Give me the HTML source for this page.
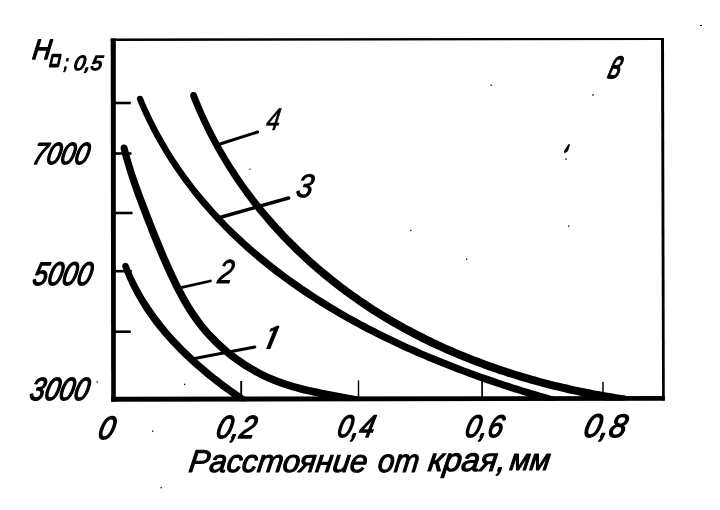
<!DOCTYPE html>
<html lang="ru"><head><meta charset="utf-8"><title>График</title>
<style>html,body{margin:0;padding:0;background:#fff}svg{display:block}</style></head><body>
<svg width="720" height="510" viewBox="0 0 720 510">
<rect width="720" height="510" fill="#fff"/>
<g fill="#000" stroke="none">
<polygon points="110.7,38.5 115.8,38.5 115.8,401.8 111.2,401.8"/>
<polygon points="111.2,396.8 664.8,396 664.8,400.7 111.2,401.8"/>
<polygon points="110.7,38.5 664,37.9 664,40 110.7,40.9"/>
<polygon points="661,38 664,38 664.8,400.5 662.1,400.5"/>
</g>
<g stroke="#000" stroke-width="2.6" fill="none">
<line x1="114" y1="103" x2="130.8" y2="103"/>
<line x1="114" y1="153.5" x2="131.5" y2="153.5"/>
<line x1="114" y1="213" x2="132.5" y2="213"/>
<line x1="114" y1="271.2" x2="131.8" y2="271.2"/>
<line x1="114" y1="331.7" x2="130.8" y2="331.7"/>
<line x1="241.2" y1="381" x2="241.2" y2="397" stroke-width="1.9"/>
<line x1="358.5" y1="380.4" x2="358.5" y2="397" stroke-width="1.4"/>
<line x1="482.1" y1="380.5" x2="482.1" y2="397" stroke-width="1.7"/>
<line x1="603" y1="382" x2="603" y2="397" stroke-width="1.5"/>
<line x1="220" y1="144" x2="257.6" y2="132" stroke-width="3.0" stroke-linecap="round"/>
<line x1="218" y1="218" x2="288.6" y2="198" stroke-width="3.4" stroke-linecap="round"/>
<line x1="182" y1="287.3" x2="210.4" y2="281" stroke-width="2.8" stroke-linecap="round"/>
<line x1="194.5" y1="358.5" x2="254.8" y2="347" stroke-width="3.0" stroke-linecap="round"/>
</g>
<clipPath id="above"><polygon points="0,0 720,0 720,400.4 0,401.6"/></clipPath>
<g fill="#000" stroke="none" clip-path="url(#above)">
<polygon points="122.4,267.3 123.8,271.2 125.4,275.0 127.0,278.7 128.6,282.5 130.4,286.2 132.2,289.8 134.1,293.4 136.1,297.0 138.1,300.5 140.2,304.0 142.3,307.5 144.5,310.9 146.8,314.3 149.1,317.6 151.5,320.9 153.9,324.2 156.4,327.4 159.0,330.5 161.6,333.7 164.2,336.8 166.9,339.8 169.7,342.9 172.4,345.8 175.3,348.8 178.1,351.7 181.0,354.6 183.9,357.4 186.9,360.2 189.9,363.0 192.9,365.7 196.0,368.5 199.1,371.1 202.2,373.8 205.3,376.4 208.5,378.9 211.7,381.5 214.9,384.0 218.1,386.4 221.3,388.9 224.6,391.3 227.9,393.6 231.1,396.0 234.4,398.3 237.8,400.6 241.1,402.8 244.4,405.0 248.4,398.9 245.1,396.7 241.9,394.5 238.6,392.3 235.4,390.0 232.1,387.7 228.9,385.3 225.7,383.0 222.5,380.6 219.4,378.1 216.2,375.7 213.1,373.2 210.0,370.7 206.9,368.1 203.9,365.5 200.9,362.9 197.9,360.2 194.9,357.6 192.0,354.8 189.1,352.1 186.2,349.3 183.4,346.5 180.6,343.6 177.9,340.7 175.2,337.8 172.5,334.9 169.9,331.9 167.3,328.9 164.8,325.8 162.3,322.7 159.9,319.6 157.5,316.5 155.2,313.3 152.9,310.0 150.7,306.8 148.5,303.5 146.4,300.2 144.3,296.9 142.3,293.5 140.3,290.0 138.5,286.6 136.6,283.1 134.9,279.5 133.2,276.0 131.6,272.3 130.1,268.7 128.6,265.0 127.9,263.9 126.8,263.1 125.6,262.8 124.3,263.0 123.2,263.7 122.4,264.8 122.2,266.0"/>
<polygon points="120.6,148.8 121.6,152.7 122.6,156.7 123.7,160.6 124.8,164.5 126.0,168.4 127.2,172.3 128.4,176.2 129.7,180.1 131.0,183.9 132.3,187.7 133.6,191.6 135.0,195.4 136.4,199.2 137.8,203.0 139.2,206.8 140.6,210.6 142.1,214.3 143.5,218.1 145.0,221.9 146.5,225.6 148.0,229.4 149.4,233.2 150.9,236.9 152.5,240.7 154.0,244.5 155.5,248.2 157.1,252.0 158.7,255.7 160.3,259.4 161.9,263.1 163.5,266.9 165.2,270.6 166.9,274.2 168.6,277.9 170.4,281.6 172.1,285.2 173.9,288.9 175.8,292.5 177.7,296.1 179.6,299.7 181.6,303.2 183.7,306.8 185.8,310.3 188.0,313.7 190.3,317.1 192.6,320.5 195.0,323.8 197.6,327.1 200.1,330.3 202.8,333.4 205.5,336.5 208.3,339.5 211.2,342.5 214.1,345.4 217.1,348.2 220.1,351.0 223.3,353.7 226.4,356.3 229.7,358.9 233.0,361.3 236.3,363.8 239.7,366.1 243.2,368.4 246.7,370.5 250.2,372.6 253.8,374.7 257.4,376.6 261.1,378.5 264.8,380.2 268.6,381.9 272.4,383.5 276.2,385.1 280.1,386.5 284.0,387.8 287.9,389.1 291.8,390.2 295.7,391.3 299.7,392.4 303.7,393.4 307.6,394.3 311.6,395.2 315.6,396.0 319.6,396.9 323.6,397.6 327.6,398.4 331.6,399.2 335.6,399.9 339.5,400.7 343.5,401.4 347.4,402.1 351.4,402.9 355.3,403.7 359.2,404.5 360.8,397.1 356.8,396.3 352.9,395.5 348.9,394.7 344.9,393.9 340.9,393.2 337.0,392.4 333.0,391.7 329.0,390.9 325.1,390.2 321.1,389.4 317.2,388.6 313.2,387.8 309.3,386.9 305.4,386.0 301.6,385.0 297.7,384.0 293.9,382.9 290.1,381.8 286.3,380.6 282.6,379.3 278.9,378.0 275.3,376.5 271.6,375.0 268.0,373.4 264.5,371.7 260.9,369.9 257.5,368.0 254.0,366.1 250.6,364.0 247.3,362.0 244.0,359.8 240.7,357.5 237.5,355.2 234.3,352.8 231.2,350.4 228.2,347.9 225.2,345.3 222.2,342.6 219.4,339.9 216.6,337.1 213.8,334.3 211.1,331.4 208.5,328.4 206.0,325.4 203.5,322.4 201.1,319.2 198.8,316.1 196.6,312.8 194.4,309.6 192.3,306.2 190.2,302.9 188.2,299.5 186.3,296.0 184.4,292.5 182.5,289.0 180.7,285.5 179.0,281.9 177.2,278.3 175.5,274.7 173.8,271.1 172.1,267.4 170.5,263.8 168.9,260.1 167.2,256.4 165.7,252.7 164.1,249.0 162.6,245.3 161.0,241.6 159.5,237.8 158.0,234.1 156.5,230.4 155.0,226.6 153.5,222.9 152.1,219.1 150.6,215.4 149.1,211.6 147.7,207.8 146.2,204.1 144.8,200.3 143.4,196.6 141.9,192.8 140.6,189.1 139.2,185.3 137.9,181.5 136.6,177.7 135.3,174.0 134.1,170.2 132.9,166.3 131.7,162.5 130.6,158.7 129.5,154.8 128.5,151.0 127.5,147.1 126.9,145.9 125.9,144.9 124.6,144.5 123.2,144.5 122.0,145.1 121.1,146.1 120.6,147.4"/>
<polygon points="137.1,100.0 138.7,103.9 140.3,107.7 142.0,111.5 143.7,115.3 145.5,119.1 147.3,122.8 149.2,126.5 151.0,130.2 152.9,133.8 154.9,137.4 156.9,141.0 158.9,144.5 160.9,148.1 163.0,151.6 165.1,155.0 167.3,158.5 169.4,161.9 171.7,165.3 173.9,168.7 176.2,172.0 178.5,175.3 180.8,178.6 183.2,181.9 185.6,185.1 188.0,188.3 190.4,191.5 192.9,194.7 195.4,197.8 198.0,200.9 200.5,204.0 203.1,207.0 205.8,210.1 208.4,213.1 211.1,216.1 213.8,219.0 216.5,221.9 219.3,224.8 222.1,227.7 224.9,230.6 227.7,233.4 230.6,236.2 233.5,239.0 236.4,241.8 239.3,244.5 242.3,247.2 245.2,249.9 248.2,252.5 251.3,255.2 254.3,257.8 257.4,260.4 260.5,263.0 263.6,265.5 266.7,268.0 269.9,270.5 273.0,273.0 276.2,275.4 279.5,277.8 282.7,280.2 286.0,282.6 289.2,285.0 292.5,287.3 295.8,289.6 299.2,291.9 302.5,294.2 305.9,296.4 309.3,298.6 312.7,300.8 316.1,303.0 319.5,305.2 322.9,307.3 326.4,309.4 329.9,311.5 333.3,313.6 336.8,315.7 340.4,317.7 343.9,319.7 347.4,321.7 351.0,323.7 354.5,325.6 358.1,327.6 361.7,329.5 365.3,331.4 368.9,333.3 372.5,335.1 376.2,336.9 379.8,338.8 383.4,340.6 387.1,342.3 390.8,344.1 394.5,345.8 398.1,347.6 401.8,349.3 405.5,351.0 409.2,352.6 413.0,354.3 416.7,355.9 420.4,357.5 424.2,359.1 427.9,360.7 431.6,362.3 435.4,363.8 439.2,365.3 442.9,366.8 446.7,368.3 450.5,369.8 454.2,371.3 458.0,372.7 461.8,374.1 465.6,375.5 469.3,376.9 473.1,378.3 476.9,379.7 480.7,381.0 484.5,382.4 488.3,383.7 492.1,385.0 495.9,386.2 499.7,387.5 503.5,388.8 507.3,390.0 511.0,391.2 514.8,392.4 518.6,393.6 522.4,394.8 526.2,396.0 530.0,397.1 533.7,398.2 537.5,399.4 541.3,400.5 545.0,401.6 548.8,402.6 552.6,403.7 556.3,404.8 558.2,397.8 554.5,396.8 550.8,395.7 547.0,394.6 543.3,393.6 539.6,392.5 535.8,391.3 532.1,390.2 528.3,389.1 524.5,387.9 520.8,386.7 517.0,385.6 513.2,384.4 509.5,383.1 505.7,381.9 502.0,380.7 498.2,379.4 494.4,378.1 490.7,376.8 486.9,375.5 483.1,374.2 479.4,372.9 475.6,371.5 471.8,370.2 468.1,368.8 464.3,367.4 460.6,366.0 456.8,364.5 453.1,363.1 449.3,361.6 445.6,360.1 441.9,358.6 438.1,357.1 434.4,355.6 430.7,354.0 427.0,352.5 423.3,350.9 419.6,349.3 415.9,347.6 412.2,346.0 408.5,344.4 404.9,342.7 401.2,341.0 397.5,339.3 393.9,337.6 390.3,335.8 386.6,334.0 383.0,332.3 379.4,330.5 375.8,328.6 372.2,326.8 368.7,324.9 365.1,323.1 361.6,321.2 358.0,319.3 354.5,317.3 351.0,315.4 347.5,313.4 344.0,311.4 340.5,309.4 337.0,307.3 333.6,305.3 330.2,303.2 326.8,301.1 323.4,299.0 320.0,296.9 316.6,294.7 313.2,292.5 309.9,290.3 306.6,288.1 303.3,285.9 300.0,283.6 296.7,281.3 293.5,279.0 290.2,276.7 287.0,274.4 283.8,272.0 280.7,269.6 277.5,267.2 274.4,264.8 271.2,262.3 268.1,259.8 265.1,257.3 262.0,254.8 259.0,252.3 255.9,249.7 252.9,247.2 250.0,244.5 247.0,241.9 244.1,239.3 241.2,236.6 238.3,233.9 235.5,231.2 232.6,228.4 229.8,225.7 227.0,222.9 224.3,220.0 221.5,217.2 218.8,214.3 216.1,211.4 213.5,208.5 210.9,205.6 208.3,202.6 205.7,199.6 203.1,196.6 200.6,193.6 198.1,190.5 195.7,187.4 193.2,184.3 190.8,181.1 188.5,178.0 186.1,174.8 183.8,171.6 181.5,168.3 179.3,165.0 177.1,161.7 174.9,158.4 172.7,155.0 170.6,151.7 168.5,148.2 166.5,144.8 164.4,141.3 162.5,137.8 160.5,134.3 158.6,130.8 156.7,127.2 154.8,123.6 153.0,120.0 151.2,116.3 149.5,112.6 147.8,108.9 146.1,105.2 144.5,101.4 142.9,97.6 142.2,96.6 141.2,95.9 140.0,95.7 138.8,95.9 137.7,96.6 137.1,97.6 136.8,98.8"/>
<polygon points="190.3,96.5 191.8,100.4 193.3,104.2 194.9,108.0 196.5,111.7 198.2,115.5 199.9,119.2 201.6,122.9 203.3,126.6 205.1,130.2 206.9,133.9 208.8,137.5 210.7,141.1 212.6,144.7 214.5,148.3 216.5,151.8 218.5,155.3 220.6,158.8 222.6,162.3 224.8,165.7 226.9,169.2 229.1,172.6 231.3,176.0 233.5,179.4 235.7,182.7 238.0,186.0 240.3,189.3 242.7,192.6 245.0,195.9 247.4,199.1 249.9,202.4 252.3,205.5 254.8,208.7 257.3,211.9 259.9,215.0 262.5,218.1 265.1,221.2 267.7,224.2 270.3,227.3 273.0,230.3 275.7,233.3 278.5,236.2 281.2,239.2 284.0,242.1 286.8,245.0 289.7,247.8 292.5,250.7 295.4,253.5 298.3,256.3 301.3,259.0 304.2,261.8 307.2,264.5 310.2,267.2 313.2,269.8 316.3,272.5 319.4,275.1 322.5,277.7 325.6,280.2 328.7,282.8 331.9,285.3 335.1,287.8 338.3,290.2 341.5,292.7 344.7,295.1 348.0,297.5 351.3,299.8 354.6,302.1 357.9,304.4 361.2,306.7 364.6,309.0 367.9,311.2 371.3,313.4 374.7,315.6 378.2,317.7 381.6,319.8 385.1,321.9 388.5,324.0 392.0,326.0 395.5,328.0 399.1,330.0 402.6,332.0 406.2,333.9 409.7,335.8 413.3,337.7 416.9,339.5 420.5,341.4 424.2,343.2 427.8,344.9 431.4,346.7 435.1,348.4 438.8,350.1 442.5,351.8 446.2,353.4 449.9,355.0 453.6,356.6 457.4,358.2 461.1,359.7 464.9,361.3 468.6,362.8 472.4,364.2 476.2,365.7 480.0,367.1 483.8,368.5 487.6,369.9 491.4,371.2 495.3,372.6 499.1,373.9 503.0,375.1 506.8,376.4 510.7,377.6 514.5,378.8 518.4,380.0 522.3,381.2 526.2,382.3 530.1,383.4 534.0,384.5 537.9,385.6 541.8,386.7 545.7,387.7 549.6,388.7 553.5,389.7 557.5,390.6 561.4,391.6 565.3,392.5 569.3,393.4 573.2,394.2 577.1,395.1 581.1,395.9 585.0,396.7 589.0,397.5 592.9,398.2 596.9,399.0 600.8,399.7 604.7,400.4 608.7,401.0 612.6,401.7 616.6,402.3 620.5,402.9 624.5,403.5 625.6,395.6 621.7,395.0 617.8,394.4 613.9,393.8 610.0,393.1 606.1,392.5 602.2,391.8 598.3,391.1 594.4,390.4 590.5,389.6 586.6,388.8 582.7,388.0 578.8,387.2 574.9,386.4 571.0,385.5 567.1,384.6 563.2,383.7 559.3,382.8 555.5,381.9 551.6,380.9 547.7,379.9 543.8,378.9 540.0,377.9 536.1,376.8 532.3,375.7 528.4,374.6 524.6,373.5 520.7,372.3 516.9,371.2 513.1,370.0 509.3,368.7 505.5,367.5 501.7,366.2 497.9,364.9 494.1,363.6 490.3,362.3 486.6,360.9 482.8,359.5 479.1,358.1 475.3,356.7 471.6,355.2 467.9,353.8 464.2,352.3 460.5,350.7 456.8,349.2 453.1,347.6 449.4,346.0 445.8,344.4 442.2,342.7 438.5,341.1 434.9,339.4 431.3,337.6 427.7,335.9 424.2,334.1 420.6,332.3 417.0,330.5 413.5,328.6 410.0,326.8 406.5,324.9 403.0,323.0 399.5,321.0 396.1,319.0 392.6,317.0 389.2,315.0 385.8,313.0 382.4,310.9 379.0,308.8 375.6,306.7 372.3,304.5 369.0,302.3 365.7,300.1 362.4,297.9 359.1,295.6 355.8,293.3 352.6,291.0 349.4,288.7 346.2,286.3 343.0,284.0 339.9,281.5 336.7,279.1 333.6,276.6 330.5,274.1 327.5,271.6 324.4,269.1 321.4,266.5 318.4,263.9 315.4,261.3 312.4,258.7 309.5,256.0 306.6,253.3 303.7,250.6 300.8,247.9 297.9,245.1 295.1,242.3 292.3,239.5 289.5,236.7 286.8,233.9 284.1,231.0 281.4,228.1 278.7,225.2 276.0,222.2 273.4,219.3 270.8,216.3 268.2,213.3 265.6,210.2 263.1,207.2 260.6,204.1 258.1,201.0 255.7,197.9 253.3,194.7 250.9,191.6 248.5,188.4 246.2,185.2 243.9,181.9 241.6,178.7 239.4,175.4 237.2,172.1 235.0,168.8 232.8,165.4 230.7,162.1 228.6,158.7 226.6,155.2 224.5,151.8 222.5,148.4 220.6,144.9 218.7,141.4 216.8,137.9 214.9,134.3 213.1,130.8 211.3,127.2 209.5,123.6 207.8,120.0 206.1,116.3 204.4,112.7 202.8,109.0 201.2,105.3 199.7,101.6 198.1,97.8 196.7,94.1 195.9,93.0 194.9,92.2 193.6,91.9 192.2,92.1 191.1,92.9 190.4,93.9 190.1,95.2"/>
</g>
<g fill="#000"><path d="M568.5,144 L570,144.5 L568,151 L564.5,153.5 L564,151 Z"/><rect x="565" y="158.5" width="2" height="1"/><rect x="700" y="25" width="2" height="1"/><rect x="592" y="94.5" width="2" height="1"/><rect x="568" y="225.5" width="1.3" height="1.3"/><rect x="184" y="383.7" width="1.3" height="1.3"/><rect x="96.5" y="381.3" width="1.5" height="1.2"/><rect x="410" y="229.8" width="1.6" height="1"/><rect x="152" y="430.5" width="1.3" height="1.3"/><rect x="160.5" y="487" width="1.3" height="1.3"/><rect x="466" y="258.6" width="1.3" height="1.3"/><rect x="490.5" y="84.6" width="1.3" height="1.3"/><rect x="249.5" y="168.6" width="1.2" height="1.2"/></g>
<g font-family='"Liberation Sans", sans-serif' font-style="italic" font-size="100" fill="#000" stroke="#000" stroke-linejoin="round">
<text font-weight="normal" stroke-width="4.83" transform="translate(31.64,59.34) scale(0.2566,0.2822) skewX(-8)">H</text>
<text font-weight="bold" stroke-width="16.29" transform="translate(49.89,66.35) scale(0.1362,0.1816) skewX(-16)">□</text>
<text font-weight="normal" stroke-width="8.44" transform="translate(63.86,68.64) scale(0.1400,0.1919) skewX(-8)">;</text>
<text font-weight="normal" stroke-width="6.35" transform="translate(72.98,69.53) scale(0.2047,0.2045) skewX(-10)">0,5</text>
<text font-weight="normal" stroke-width="4.67" transform="translate(31.17,163.79) scale(0.2531,0.3040) skewX(-15)">7000</text>
<text font-weight="normal" stroke-width="4.42" transform="translate(31.55,285.32) scale(0.2632,0.3253) skewX(-15)">5000</text>
<text font-weight="normal" stroke-width="4.46" transform="translate(28.48,400.34) scale(0.2644,0.3187) skewX(-15)">3000</text>
<text font-weight="normal" stroke-width="4.27" transform="translate(96.80,439.03) scale(0.2859,0.3227) skewX(-15)">0</text>
<text font-weight="normal" stroke-width="4.34" transform="translate(214.73,437.62) scale(0.2811,0.3184) skewX(-15)">0,2</text>
<text font-weight="normal" stroke-width="4.51" transform="translate(335.95,437.21) scale(0.2644,0.3126) skewX(-15)">0,4</text>
<text font-weight="normal" stroke-width="4.46" transform="translate(463.70,437.13) scale(0.2718,0.3115) skewX(-15)">0,6</text>
<text font-weight="normal" stroke-width="4.14" transform="translate(582.29,437.02) scale(0.3020,0.3253) skewX(-15)">0,8</text>
<text font-weight="normal" stroke-width="3.52" transform="translate(187.99,472.35) scale(0.3084,0.3164) skewX(-8)">Расстояние</text>
<text font-weight="normal" stroke-width="3.55" transform="translate(377.12,471.82) scale(0.2942,0.3259) skewX(-8)">от</text>
<text font-weight="normal" stroke-width="3.37" transform="translate(427.20,470.60) scale(0.3247,0.3273) skewX(-8)">края,</text>
<text font-weight="normal" stroke-width="3.69" transform="translate(508.90,469.99) scale(0.2931,0.3035) skewX(-8)">мм</text>
<text font-weight="normal" stroke-width="2.76" transform="translate(606.46,78.28) scale(0.2423,0.4088) skewX(-26)">в</text>
<text font-weight="normal" stroke-width="2.16" transform="translate(265.37,129.69) scale(0.2437,0.3127) skewX(-12)">4</text>
<text font-weight="normal" stroke-width="2.89" transform="translate(294.92,197.15) scale(0.2953,0.3274) skewX(-12)">3</text>
<text font-weight="normal" stroke-width="2.97" transform="translate(216.65,282.77) scale(0.2739,0.3319) skewX(-12)">2</text>
<text font-family='"IPAGothic", "Liberation Sans", sans-serif' font-style="normal" font-weight="normal" stroke-width="3.91" transform="translate(258.40,350.04) scale(0.3500,0.3149) skewX(-20)">1</text>
</g>
</svg></body></html>
